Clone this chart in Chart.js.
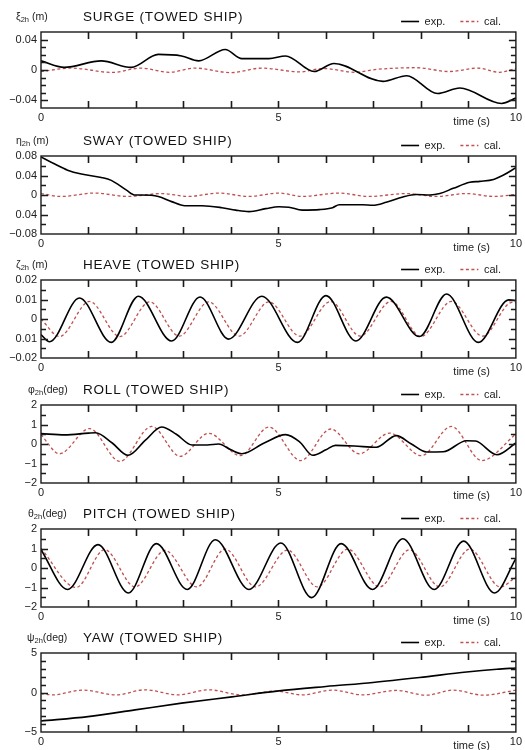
<!DOCTYPE html>
<html><head><meta charset="utf-8">
<script src="https://cdn.jsdelivr.net/npm/chart.js@4/dist/chart.umd.min.js"></script>
<style>
html,body{margin:0;padding:0;background:#fff;}
#wrap{position:relative;width:525px;height:750px;overflow:hidden;font-family:"Liberation Sans",Arial,sans-serif;}
canvas{position:absolute;left:0;}
.ttl{position:absolute;left:83px;font-size:13.5px;letter-spacing:0.8px;color:#111;white-space:nowrap;line-height:1;}
.ylab{position:absolute;font-size:10.5px;color:#222;white-space:nowrap;line-height:1;}
.ylab sub{font-size:7.5px;vertical-align:-2px;line-height:1;}
.xlab{position:absolute;font-size:11px;color:#222;white-space:nowrap;line-height:1;}
</style></head><body><div id="wrap"></div>
<script>
// ---------------- DATA ----------------
const panelTitles = ['SURGE (TOWED SHIP)','SWAY (TOWED SHIP)','HEAVE (TOWED SHIP)','ROLL (TOWED SHIP)','PITCH (TOWED SHIP)','YAW (TOWED SHIP)'];
const panelSymbols = ['ξ','η','ζ','φ','θ','ψ'];
const panelUnits = [' (m)',' (m)',' (m)','(deg)','(deg)','(deg)'];
const seriesNames = ['exp.','cal.'];
const xTickValues = [0,5,10];
const xTickLabels = ['0','5','10'];
const xAxisLabel = 'time (s)';

// y axis ranges and labelled ticks
const yMin = [-0.05,-0.08,-0.02,-2,-2,-5];
const yMax = [0.05,0.08,0.02,2,2,5];
const yStep = [0.01,0.02,0.005,0.5,0.5,1];
const surgeTickValues = [0.04,0,-0.04];
const surgeTickLabels = ['0.04','0','\u22120.04'];
const swayTickValues = [0.08,0.04,0,-0.04,-0.08];
const swayTickLabels = ['0.08','0.04','0','0.04','\u22120.08'];
const heaveTickValues = [0.02,0.01,0,-0.01,-0.02];
const heaveTickLabels = ['0.02','0.01','0','0.01','\u22120.02'];
const rollTickValues = [2,1,0,-1,-2];
const rollTickLabels = ['2','1','0','\u22121','\u22122'];
const pitchTickValues = [2,1,0,-1,-2];
const pitchTickLabels = ['2','1','0','\u22121','\u22122'];
const yawTickValues = [5,0,-5];
const yawTickLabels = ['5','0','\u22125'];

// SURGE
const surgeExpT = [0,0.49,1.27,1.9,2.47,2.96,3.32,3.88,4.23,4.8,5.15,5.75,6.17,7.2,7.7,8.35,8.82,9.7,10];
const surgeExpV = [0.012,0.0034,0.012,0.0034,0.0205,0.0185,0.012,0.027,0.015,0.015,0.0185,-0.002,0.0086,-0.015,-0.0075,-0.031,-0.0237,-0.044,-0.037];
const surgeCalT = [0,0.64,1.5,2.1,2.7,3.25,4.0,4.65,5.45,5.95,6.6,7.1,7.9,8.6,9.2,9.65,10];
const surgeCalV = [-0.002,0.0025,-0.0032,0.0025,-0.003,0.0025,-0.0035,0.0025,-0.0025,0.002,-0.003,0.001,0.003,-0.002,0.0025,-0.003,0.002];
// SWAY
const swayExpT = [0,0.28,0.56,0.85,1.27,1.48,1.8,1.98,2.12,2.47,2.75,3.03,3.39,3.81,4.1,4.38,4.73,5.01,5.22,5.5,5.86,6.14,6.28,6.77,6.99,7.27,7.62,7.9,8.19,8.4,8.68,9.03,9.24,9.53,9.74,10];
const swayExpV = [0.078,0.064,0.051,0.043,0.036,0.030,0.010,0.0,0.0,-0.003,-0.0136,-0.022,-0.022,-0.026,-0.031,-0.034,-0.028,-0.024,-0.025,-0.031,-0.030,-0.026,-0.020,-0.020,-0.021,-0.015,-0.004,0.001,0.0,0.003,0.0136,0.026,0.028,0.032,0.041,0.056];
const swayCalT = [0,0.42,1.13,1.83,2.54,3.1,3.74,4.38,5.01,5.5,6.28,6.9,7.69,8.33,8.96,9.53,10];
const swayCalV = [0.003,-0.003,0.004,-0.003,0.003,-0.003,0.004,-0.003,0.004,-0.003,0.004,-0.003,0.003,-0.003,0.003,-0.003,0.001];
// HEAVE
const heaveExpT = [0,0.18,0.81,1.48,2.05,2.75,3.35,3.95,4.65,5.4,6.0,6.63,7.27,7.97,8.54,9.21,9.85,10];
const heaveExpV = [-0.008,-0.0117,0.0108,-0.012,0.0117,-0.0113,0.0113,-0.0103,0.0117,-0.012,0.012,-0.0113,0.0112,-0.009,0.0128,-0.012,0.0098,0.0095];
const heaveCalT = [0,0.39,1.02,1.66,2.29,2.91,3.53,4.17,4.8,5.45,6.1,6.72,7.37,8.0,8.64,9.3,9.92,10];
const heaveCalV = [0,-0.009,0.009,-0.009,0.0088,-0.0088,0.0088,-0.0088,0.0088,-0.0088,0.009,-0.0088,0.009,-0.009,0.009,-0.0088,0.0085,0.0083];
// ROLL
const rollExpT = [0,0.5,1.0,1.15,1.5,1.83,2.2,2.54,2.85,3.18,3.5,3.74,4.0,4.23,4.7,5.15,5.45,5.72,6.0,6.2,6.6,7.06,7.48,7.8,8.12,8.47,8.96,9.15,9.6,10];
const rollExpV = [0.53,0.47,0.56,0.58,0.05,-0.58,0.2,0.87,0.5,-0.05,-0.05,0.0,-0.3,-0.5,0.05,0.48,0.1,-0.58,-0.3,-0.07,-0.1,-0.17,0.43,0.0,-0.41,-0.4,0.17,0.15,-0.55,0.05];
const rollCalT = [0,0.39,1.02,1.66,2.33,2.93,3.53,4.2,4.8,5.47,6.1,6.7,7.34,8.01,8.64,9.28,10];
const rollCalV = [0.48,-0.5,0.79,-0.89,0.9,-0.63,0.55,-0.6,0.87,-0.85,0.77,-0.5,0.56,-0.6,0.9,-0.85,0.51];
// PITCH
const pitchExpT = [0,0.56,1.2,1.84,2.43,3.08,3.67,4.38,5.05,5.7,6.32,6.98,7.62,8.28,8.9,9.55,10];
const pitchExpV = [0.94,-1.1,1.2,-1.28,1.25,-1.1,1.45,-1.1,1.28,-1.52,1.25,-1.1,1.5,-1.1,1.38,-1.28,0.48];
const pitchCalT = [0,0.74,1.34,1.98,2.61,3.28,3.88,4.52,5.19,5.82,6.46,7.13,7.76,8.4,9.03,9.67,10];
const pitchCalV = [1.0,-1.0,0.94,-0.97,0.9,-0.97,0.97,-0.97,0.92,-0.97,0.97,-0.97,0.93,-0.97,0.97,-0.97,-0.46];
// YAW
const yawExpT = [0,0.99,1.98,2.96,4.02,5.01,6.0,6.99,7.97,8.96,9.6,10];
const yawExpV = [-3.6,-3.05,-2.2,-1.35,-0.55,0.2,0.76,1.27,1.9,2.6,2.95,3.1];
const yawCalT = [0,0.25,0.88,1.59,2.19,2.89,3.53,4.23,4.94,5.5,6.14,6.77,7.48,8.12,8.68,9.32,10];
const yawCalV = [-0.13,-0.3,0.3,-0.3,0.34,-0.3,0.34,-0.3,0.17,-0.3,0.3,-0.3,0.26,-0.34,0.3,-0.34,0.3];

// ---------------- LAYOUT / STYLE ----------------
const FONT = '"Liberation Sans", Arial, sans-serif';
const RED = '#c0504d';
const INK = '#1a1a1a';
const BOX_TOP = [32,156,280,404.5,529,653];
const BOX_H = [76,78,78,78,78,79];
const LEGEND_H = 31, XAXIS_H = 17;

const panels = [
  {expT:surgeExpT,expV:surgeExpV,calT:surgeCalT,calV:surgeCalV,tv:surgeTickValues,tl:surgeTickLabels,ylx:16},
  {expT:swayExpT,expV:swayExpV,calT:swayCalT,calV:swayCalV,tv:swayTickValues,tl:swayTickLabels,ylx:16},
  {expT:heaveExpT,expV:heaveExpV,calT:heaveCalT,calV:heaveCalV,tv:heaveTickValues,tl:heaveTickLabels,ylx:16},
  {expT:rollExpT,expV:rollExpV,calT:rollCalT,calV:rollCalV,tv:rollTickValues,tl:rollTickLabels,ylx:28},
  {expT:pitchExpT,expV:pitchExpV,calT:pitchCalT,calV:pitchCalV,tv:pitchTickValues,tl:pitchTickLabels,ylx:28},
  {expT:yawExpT,expV:yawExpV,calT:yawCalT,calV:yawCalV,tv:yawTickValues,tl:yawTickLabels,ylx:27}
];

const zip = (ts, vs) => ts.map((t, k) => ({x: t, y: vs[k]}));

const framePlugin = {
  id: 'frameTicks',
  afterDatasetsDraw(chart) {
    const {ctx, chartArea: a, scales: {x, y}} = chart;
    ctx.save();
    ctx.strokeStyle = INK;
    ctx.lineWidth = 1.4;
    ctx.strokeRect(a.left, a.top, a.right - a.left, a.bottom - a.top);
    ctx.lineWidth = 1.6;
    ctx.beginPath();
    y.ticks.forEach(t => {
      if (t.value <= y.min + 1e-9 || t.value >= y.max - 1e-9) return;
      const py = Math.round(y.getPixelForValue(t.value)) + 0.5;
      const L = t.label ? 7 : 5;
      ctx.moveTo(a.left, py); ctx.lineTo(a.left + L, py);
      ctx.moveTo(a.right, py); ctx.lineTo(a.right - L, py);
    });
    x.ticks.forEach(t => {
      if (t.value <= x.min + 1e-9 || t.value >= x.max - 1e-9) return;
      const px = Math.round(x.getPixelForValue(t.value)) + 0.5;
      ctx.moveTo(px, a.top); ctx.lineTo(px, a.top + 7);
      ctx.moveTo(px, a.bottom); ctx.lineTo(px, a.bottom - 7);
    });
    ctx.stroke();
    ctx.restore();
  }
};

// legend items take the dataset's own line style (dash, width, colour)
const legendLabels = (chart) => {
  const items = Chart.defaults.plugins.legend.labels.generateLabels(chart);
  items.forEach(it => {
    const ds = chart.data.datasets[it.datasetIndex];
    it.lineDash = ds.borderDash || [];
    it.lineWidth = ds.borderWidth;
    it.strokeStyle = ds.borderColor;
    it.fillStyle = ds.borderColor;
    it.pointStyle = 'line';
  });
  return items;
};

const wrap = document.getElementById('wrap');

panels.forEach((p, i) => {
  const boxTop = BOX_TOP[i], boxH = BOX_H[i];
  const cv = document.createElement('canvas');
  cv.width = 525; cv.height = LEGEND_H + boxH + XAXIS_H;
  cv.style.width = '525px'; cv.style.height = cv.height + 'px';
  cv.style.top = (boxTop - LEGEND_H) + 'px';
  wrap.appendChild(cv);
  const chart = new Chart(cv, {
    type: 'line',
    data: {
      datasets: [
        {label: seriesNames[0], data: zip(p.expT, p.expV), borderColor: '#000', backgroundColor: '#000',
         borderWidth: 1.6, pointRadius: 0, cubicInterpolationMode: 'monotone', fill: false},
        {label: seriesNames[1], data: zip(p.calT, p.calV), borderColor: RED, backgroundColor: RED,
         borderWidth: 1.3, borderDash: [3, 2.5], pointRadius: 0, cubicInterpolationMode: 'monotone', fill: false}
      ]
    },
    options: {
      responsive: false, animation: false, devicePixelRatio: 1,
      layout: {padding: {left: 0, right: 9, top: 0, bottom: 0}},
      plugins: {
        legend: {display: true, position: 'top', align: 'end', maxHeight: LEGEND_H,
          labels: {usePointStyle: true, pointStyle: 'line', pointStyleWidth: 18, padding: 15,
                   color: '#222', font: {family: FONT, size: 11}, generateLabels: legendLabels}},
        tooltip: {enabled: false},
        title: {display: false}
      },
      scales: {
        x: {type: 'linear', min: 0, max: 10,
            grid: {display: false, drawTicks: false}, border: {display: false},
            ticks: {stepSize: 1, autoSkip: false, maxTicksLimit: 100, maxRotation: 0, padding: 3,
                    color: '#222', font: {family: FONT, size: 11},
                    callback: (v) => { const k = xTickValues.findIndex(q => Math.abs(q - v) < 1e-6); return k >= 0 ? xTickLabels[k] : ''; }},
            afterFit: (s) => { s.height = XAXIS_H; }},
        y: {type: 'linear', min: yMin[i], max: yMax[i],
            grid: {display: false, drawTicks: false}, border: {display: false},
            ticks: {stepSize: yStep[i], autoSkip: false, maxTicksLimit: 100, padding: 4,
                    color: '#222', font: {family: FONT, size: 11},
                    callback: (v) => { const k = p.tv.findIndex(q => Math.abs(q - v) < yStep[i] / 10); return k >= 0 ? p.tl[k] : ''; }},
            afterFit: (s) => { s.width = 41; }}
      }
    },
    plugins: [framePlugin]
  });
  // align plot area exactly
  let a = chart.chartArea;
  const dh = boxH - (a.bottom - a.top);
  if (Math.abs(dh) > 0.01) {
    chart.resize(525, cv.height + dh);
    a = chart.chartArea;
  }
  cv.style.top = (boxTop - a.top) + 'px';

  // title
  const t = document.createElement('div');
  t.className = 'ttl'; t.textContent = panelTitles[i];
  t.style.top = (boxTop - 10.5 - 0.8465 * 13.5) + 'px';
  wrap.appendChild(t);
  // y label
  const yl = document.createElement('div');
  yl.className = 'ylab';
  yl.innerHTML = panelSymbols[i] + '<sub>2h</sub>' + panelUnits[i];
  yl.style.left = p.ylx + 'px';
  yl.style.top = (boxTop - 12 - 0.8465 * 10.5) + 'px';
  wrap.appendChild(yl);
  // x label
  const xl = document.createElement('div');
  xl.className = 'xlab'; xl.textContent = xAxisLabel;
  xl.style.right = (525 - 490) + 'px';
  xl.style.top = (boxTop + boxH + 17 - 0.8465 * 11) + 'px';
  wrap.appendChild(xl);
});
</script>
</body></html>
